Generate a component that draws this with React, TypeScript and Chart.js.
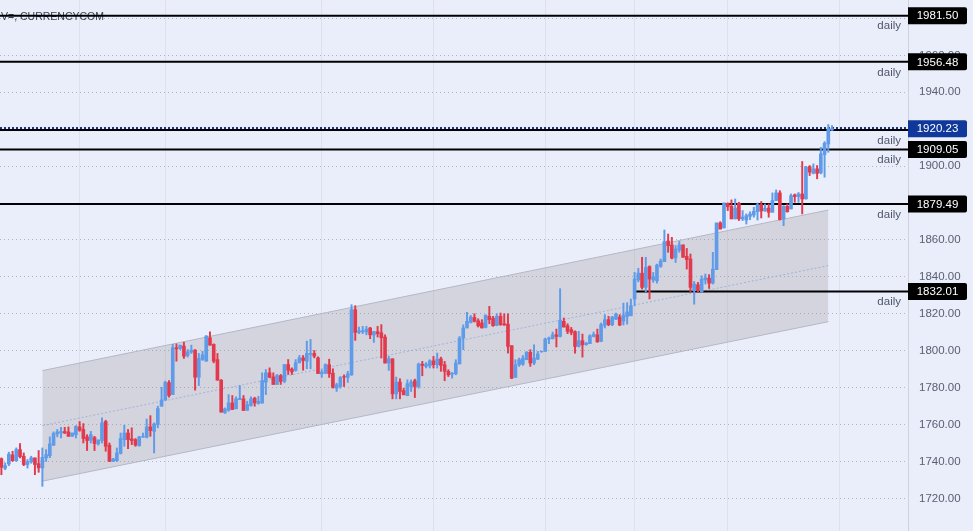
import { useEffect, useRef } from "react"
import { Chart, registerables } from "chart.js"

Chart.register(...registerables)

const FONT = '"Liberation Sans", Arial, sans-serif'

// candles
const opens = [
	1741.5, 1736.3, 1738.6, 1743.5, 1740.4, 1746.4, 1742.8, 1738.3, 1739.7, 1741.9,
	1738.8, 1736.5, 1741.9, 1743.1, 1748.8, 1754.9, 1755.4, 1756.2, 1756, 1753.6,
	1754.5, 1758.7, 1757.3, 1753.3, 1751.5, 1752.9, 1749.5, 1751.3, 1761.6, 1748.8,
	1740, 1740.4, 1744.4, 1751.8, 1755.4, 1752.2, 1751.8, 1748.6, 1753.1, 1753.1,
	1758.7, 1756.3, 1760, 1769.9, 1773.2, 1782.7, 1776.2, 1801.6, 1801.2, 1802.5,
	1797.4, 1799.2, 1800.3, 1785.6, 1795.2, 1794.3, 1807, 1803.4, 1795.2, 1784,
	1766.3, 1767.7, 1771.7, 1768.5, 1773.5, 1773.9, 1767.7, 1770.3, 1774.2, 1771.4,
	1771.7, 1782.9, 1788, 1785.8, 1781.7, 1786.5, 1783.5, 1792.5, 1790, 1789.3,
	1793.4, 1796.1, 1794.3, 1797.9, 1798.5, 1796.1, 1787.5, 1787.8, 1792.4, 1787.8,
	1779.7, 1780.6, 1786, 1785.5, 1786.9, 1822.2, 1809.9, 1810.3, 1810.1, 1812.3,
	1808.5, 1810.3, 1809.7, 1807.4, 1793.3, 1795.6, 1776.6, 1783, 1778.4, 1775.6,
	1780.6, 1783.7, 1780.6, 1792.7, 1791.5, 1791.8, 1794.5, 1792.4, 1795.6, 1792.4,
	1788.8, 1787.3, 1787.5, 1792.9, 1806.8, 1812.3, 1815.3, 1818, 1816.2, 1815,
	1812.6, 1818.6, 1817.5, 1813.7, 1818.6, 1814.6, 1814.4, 1802.7, 1785.5, 1792.4,
	1792.7, 1795.1, 1799.1, 1793.3, 1795.4, 1799.4, 1799.6, 1806.3, 1806.5, 1808.6,
	1807.7, 1815.9, 1813.5, 1811.4, 1810.3, 1802.3, 1805.4, 1803.2, 1803.8, 1807.7,
	1808.6, 1805, 1813.7, 1816.8, 1814.1, 1817.1, 1818.2, 1816, 1818.5, 1818.9,
	1828, 1838.3, 1842, 1834.3, 1845.5, 1838.3, 1837.9, 1845.7, 1848.2, 1859.4,
	1857.3, 1850.2, 1854.5, 1857.3, 1851.1, 1849.7, 1832.5, 1835.7, 1831.9, 1838.3,
	1839.3, 1836.6, 1843.9, 1869.2, 1866.5, 1879.9, 1878.2, 1871.4, 1879.9, 1871.4,
	1870.8, 1872.8, 1873.5, 1875.3, 1879, 1875.7, 1877.3, 1875, 1881.3, 1885.5,
	1871.4, 1878.2, 1876.8, 1884.4, 1883.5, 1884.9, 1882.2, 1899.7, 1896.1, 1898.5,
	1896.3, 1906.3, 1912, 1919.6,
]
const closes = [
	1736.8, 1737.7, 1743.9, 1740.4, 1746.4, 1742.6, 1738.3, 1739.9, 1741.9, 1738.3,
	1736.5, 1742.2, 1743.7, 1749.5, 1755.1, 1756, 1756.2, 1755.4, 1753.6, 1755.4,
	1758.9, 1756.9, 1752.4, 1751.3, 1754.5, 1749.7, 1751.6, 1760.9, 1748.2, 1740,
	1741.3, 1744.6, 1752.4, 1755.4, 1751.8, 1751.3, 1748.8, 1753.3, 1753.5, 1758.7,
	1756.7, 1760.3, 1768.6, 1773.3, 1782.9, 1775.7, 1801.6, 1801, 1803, 1797,
	1799.4, 1800.3, 1785.6, 1795.8, 1797.8, 1807.9, 1803, 1794.3, 1784, 1766.7,
	1768.5, 1771.7, 1768.1, 1773.9, 1774.1, 1767.6, 1770.8, 1773.9, 1771.7, 1772.6,
	1783.8, 1788, 1785.6, 1781.7, 1786.5, 1783.3, 1792.5, 1789.4, 1788.5, 1793.4,
	1796.1, 1794.7, 1798.5, 1798.5, 1797, 1787.6, 1788.4, 1792.4, 1787.5, 1780.1,
	1781.5, 1785.5, 1785.7, 1787.5, 1822.2, 1809.9, 1810.8, 1810.8, 1811.7, 1808.6,
	1810.3, 1809.2, 1807, 1793.3, 1795.6, 1776.6, 1783, 1777.9, 1776.1, 1782.1,
	1783, 1780.6, 1792.7, 1792, 1792.7, 1794.5, 1792.4, 1795.4, 1792, 1788.8,
	1786.9, 1787.8, 1793.3, 1806.8, 1812.3, 1815.9, 1818.2, 1815.9, 1813.5, 1812.3,
	1819.1, 1816.8, 1813.5, 1818.6, 1814.1, 1813.9, 1802.3, 1785.1, 1792.4, 1795.1,
	1796, 1799.1, 1793.3, 1796, 1798.3, 1799.6, 1806.3, 1806.8, 1808.6, 1807.7,
	1816.4, 1812.8, 1810.5, 1809.9, 1802.3, 1805.4, 1803.2, 1804.1, 1808.1, 1808.8,
	1804.8, 1814.1, 1816.8, 1814.1, 1818.2, 1819.9, 1813.9, 1819.3, 1821, 1824.3,
	1838.8, 1842, 1834.3, 1845.1, 1838.8, 1840.1, 1846.4, 1848.6, 1859.1, 1856.9,
	1850.2, 1855.1, 1857.3, 1850.6, 1849.3, 1834.3, 1836.1, 1832.5, 1838.8, 1839.5,
	1836.6, 1844.2, 1869.2, 1865.9, 1880, 1878, 1871.4, 1877.3, 1871.4, 1872.4,
	1873.2, 1874.1, 1875.5, 1879.1, 1875.7, 1877.1, 1875, 1881.3, 1885.5, 1871,
	1878.2, 1875.3, 1884, 1883.5, 1884.9, 1882.2, 1899.4, 1896.7, 1898.5, 1896.1,
	1906.6, 1912.4, 1920.2, 1920.23,
]
const highs = [
	1741.9, 1739.2, 1745, 1745.5, 1747.3, 1749.7, 1744.6, 1741, 1742.8, 1741.9,
	1745.9, 1747.3, 1746.4, 1753.3, 1756, 1757.3, 1758.5, 1758.5, 1758.7, 1755.4,
	1759.4, 1761.6, 1760.5, 1754.5, 1756.3, 1753.6, 1751.7, 1763.6, 1762.3, 1750,
	1741.7, 1747.3, 1755.4, 1759.6, 1757.3, 1758.2, 1752.4, 1753.6, 1755.4, 1763,
	1764.8, 1760.9, 1769.9, 1780.2, 1783.5, 1783.8, 1803.4, 1803.7, 1803, 1804.6,
	1800.6, 1803, 1800.6, 1798.5, 1799.7, 1808.2, 1810.2, 1803.7, 1798.5, 1784.4,
	1769, 1776.2, 1775.7, 1775, 1781.1, 1775.7, 1772.6, 1775, 1774.8, 1775.3,
	1788, 1789.8, 1790.7, 1788, 1787.1, 1787.1, 1792.5, 1795.2, 1790.7, 1795.2,
	1797.4, 1797.4, 1805.2, 1806.1, 1800.1, 1796.7, 1789.7, 1792.9, 1795.4, 1790.2,
	1782.4, 1786, 1786.9, 1788.8, 1824.9, 1824.4, 1812.8, 1813.2, 1813.2, 1812.6,
	1810.5, 1813.2, 1814.1, 1808.6, 1796.9, 1795.6, 1785.7, 1784.8, 1779.7, 1784.2,
	1784.2, 1784.6, 1793.3, 1794.2, 1793.6, 1795.1, 1796.9, 1798.7, 1796.5, 1794.2,
	1789.7, 1788.2, 1795.1, 1807.7, 1814, 1820.8, 1819.1, 1820, 1817.3, 1816.8,
	1819.5, 1824, 1818.6, 1820, 1820.4, 1820, 1820, 1802.7, 1795.1, 1796,
	1797.4, 1799.6, 1800.5, 1803.2, 1799.6, 1799.8, 1806.8, 1807.4, 1810.1, 1811.7,
	1833.6, 1817.7, 1814.6, 1812.6, 1810.8, 1810.5, 1809, 1804.5, 1808.6, 1810.1,
	1811.7, 1815, 1819.5, 1818.6, 1818.6, 1820.4, 1819.5, 1825.8, 1826, 1828,
	1842.4, 1844.6, 1850.6, 1850.6, 1846, 1842.4, 1846.9, 1849.7, 1865.4, 1863.2,
	1861.4, 1856.9, 1859.2, 1857.3, 1855.4, 1852.4, 1837.5, 1837, 1840.6, 1841.5,
	1841.2, 1853.3, 1869.2, 1869.9, 1880, 1880, 1881.7, 1882.2, 1880.4, 1875.9,
	1874.1, 1875.3, 1877.7, 1880, 1880.8, 1879.5, 1879.5, 1885.5, 1887.1, 1886.7,
	1878.6, 1879.5, 1884.9, 1884.9, 1885.7, 1902.5, 1899.9, 1900.3, 1901.2, 1900.3,
	1910.2, 1913.3, 1922.5, 1922,
]
const lows = [
	1732.8, 1735.5, 1737.7, 1740, 1740, 1741.9, 1737.7, 1736.4, 1739, 1732.8,
	1734.1, 1726.5, 1740, 1742, 1748.6, 1753.3, 1752.7, 1755.1, 1753.6, 1753.6,
	1752.7, 1756.3, 1750, 1745.9, 1750, 1745.9, 1748.8, 1750, 1745.5, 1740,
	1740, 1740, 1744, 1748.2, 1746.9, 1749.1, 1748.2, 1748.2, 1753.1, 1752.7,
	1753.6, 1744.6, 1758.2, 1769.9, 1773.2, 1774.8, 1776.2, 1794.3, 1800.6, 1795.8,
	1796.5, 1798.5, 1778.6, 1781.1, 1794.7, 1794.3, 1803, 1793.4, 1784, 1766.7,
	1766, 1767.2, 1768.1, 1768.5, 1773.5, 1767.6, 1767.6, 1769.9, 1769.9, 1771,
	1771.4, 1776.2, 1785.3, 1781.7, 1781.7, 1781.7, 1782.6, 1787.1, 1787.1, 1788.9,
	1793.4, 1789.4, 1790.2, 1790.2, 1796.1, 1787.6, 1785.5, 1787.5, 1785.5, 1779.7,
	1777.9, 1779.7, 1780.6, 1782.8, 1786.6, 1805.6, 1809.2, 1809.2, 1808.6, 1806.5,
	1804.5, 1807.4, 1796, 1793.3, 1789.3, 1773.9, 1773.9, 1773.9, 1776.1, 1775.6,
	1777.9, 1774.6, 1779.7, 1786.4, 1790.7, 1790.6, 1790.6, 1790.6, 1788.8, 1783.7,
	1786, 1785.1, 1786.9, 1792.7, 1800.5, 1812.3, 1815, 1815.5, 1812.8, 1812.3,
	1812.3, 1814.6, 1813.2, 1813.5, 1813.7, 1813.7, 1798.7, 1784.8, 1785.5, 1791.5,
	1792, 1795.1, 1791.5, 1792.4, 1795.1, 1799.1, 1799.6, 1803.8, 1806.3, 1802,
	1807.4, 1812.8, 1809.2, 1808.6, 1798.7, 1802, 1796.5, 1803, 1803.8, 1807.4,
	1804.5, 1805, 1812.3, 1813.5, 1813.5, 1816.8, 1813.5, 1813.9, 1814.4, 1818.9,
	1824.3, 1837.3, 1833.4, 1831.9, 1828, 1837, 1836.6, 1845.1, 1848.2, 1853.3,
	1849.7, 1847.8, 1853.3, 1850.6, 1844.2, 1831.9, 1825.2, 1831.9, 1831.6, 1836.1,
	1833.7, 1836.1, 1843.9, 1865.9, 1866.5, 1875.9, 1871.4, 1871.4, 1870.5, 1870.5,
	1868.6, 1871, 1872.3, 1870.8, 1871.9, 1875.5, 1872.3, 1875, 1881.3, 1870.8,
	1867.7, 1875, 1876.8, 1880.4, 1880.4, 1874.1, 1882.2, 1894.9, 1895.8, 1893.1,
	1895.8, 1894, 1907.5, 1919.3,
]

// horizontal levels: black line + black tag + "daily" note
const levels = [1981.5, 1956.48, 1909.05, 1879.49, 1832.01]
const levelStart = [0, 0, 0, 0, 170]
const levelTags = ["1981.50", "1956.48", "1909.05", "1879.49", "1832.01"]
const lastPrice = 1920.23
const lastLevel = 1919.6

// regression channel
const channelX = [11, 222]
const channelTop = [1789.2, 1876.2]
const channelMid = [1759.4, 1846.1]
const channelBottom = [1729.3, 1815.7]

const priceTicks = [
	1720, 1740, 1760, 1780, 1800, 1820, 1840, 1860, 1880, 1900, 1920, 1940, 1960, 1980,
]
const dayLines = [21, 44, 86, 116, 146, 170, 195, 225]

const X_MIN = -0.376
const X_MAX = 243.4
const Y_MIN = 1702.3
const Y_MAX = 1990

const UP = "#5f9be8"
const DOWN = "#e23a4c"

const candleColors = closes.map((c, i) => (c >= opens[i] ? UP : DOWN))

function hline(y: number, from: number, color = "#000", dash: number[] = []) {
	return {
		type: "line" as const,
		data: [
			{ x: from <= 0 ? X_MIN : from, y },
			{ x: X_MAX, y },
		],
		borderColor: color,
		borderWidth: 2,
		borderDash: dash,
		pointRadius: 0,
		order: 3,
	}
}

const annotations = {
	id: "annotations",
	beforeDatasetsDraw(chart: Chart) {
		const { ctx } = chart
		ctx.save()
		ctx.font = `10.5px ${FONT}`
		ctx.fillStyle = "#3a3f4d"
		ctx.textBaseline = "middle"
		ctx.textAlign = "left"
		ctx.fillText("V=, CURRENCYCOM", 1, 17)
		ctx.restore()
	},
	afterDraw(chart: Chart) {
		const { ctx } = chart
		const y = chart.scales.y
		const tag = (value: number, text: string, bg: string) => {
			const py = y.getPixelForValue(value)
			ctx.fillStyle = bg
			ctx.beginPath()
			ctx.roundRect(908, py - 8.5, 59, 17, [0, 2, 2, 0])
			ctx.fill()
			ctx.fillStyle = "#fff"
			ctx.textAlign = "center"
			ctx.fillText(text, 937.5, py + 0.5)
		}
		ctx.save()
		ctx.font = `11.5px ${FONT}`
		ctx.textBaseline = "middle"
		ctx.fillStyle = "#50566a"
		ctx.textAlign = "right"
		for (const v of [...levels, lastLevel]) {
			ctx.fillText("daily", 901, y.getPixelForValue(v) + 10.5)
		}
		levels.forEach((v, i) => tag(v, levelTags[i], "#000"))
		tag(lastPrice, lastPrice.toFixed(2), "#10389b")
		ctx.restore()
	},
}

export default function App() {
	const canvasRef = useRef<HTMLCanvasElement>(null)

	useEffect(() => {
		if (!canvasRef.current) return
		document.body.style.margin = "0"

		const chart = new Chart(canvasRef.current, {
			type: "bar",
			data: {
				datasets: [
					// candles
					{
						data: closes.map((c, i) => ({ x: i, y: [opens[i], c] })),
						backgroundColor: candleColors,
						barThickness: 3,
						grouped: false,
						order: 1,
					},
					{
						data: highs.map((h, i) => ({ x: i, y: [lows[i], h] })),
						backgroundColor: candleColors,
						barThickness: 1.3,
						grouped: false,
						order: 2,
					},
					...levels.map((v, i) => hline(v, levelStart[i])),
					hline(lastLevel, 0),
					hline(lastPrice + 0.4, 0, "#12307f", [2, 2]),
					// channel
					{
						type: "line",
						data: channelX.map((x, i) => ({ x, y: channelMid[i] })),
						borderColor: "#a3b1d8",
						borderWidth: 1,
						borderDash: [2, 2],
						pointRadius: 0,
						order: 4,
					},
					{
						type: "line",
						data: channelX.map((x, i) => ({ x, y: channelBottom[i] })),
						borderColor: "#b5b8c4",
						borderWidth: 1,
						pointRadius: 0,
						order: 5,
					},
					{
						type: "line",
						data: channelX.map((x, i) => ({ x, y: channelTop[i] })),
						borderColor: "#b5b8c4",
						borderWidth: 1,
						pointRadius: 0,
						fill: { target: "-1" },
						backgroundColor: "rgba(130,125,125,0.22)",
						order: 6,
					},
				],
			} as any,
			options: {
				responsive: false,
				animation: false,
				layout: { padding: 0 },
				plugins: { legend: { display: false }, tooltip: { enabled: false } },
				scales: {
					x: {
						type: "linear",
						min: X_MIN,
						max: X_MAX,
						offset: false,
						grid: { color: "#dce1ed", offset: false, drawTicks: false },
						border: { display: false },
						ticks: { display: false, autoSkip: false },
						afterBuildTicks: (s: any) => {
							s.ticks = dayLines.map((value) => ({ value }))
						},
						afterFit: (s: any) => {
							s.height = 0
						},
					},
					y: {
						position: "right",
						min: Y_MIN,
						max: Y_MAX,
						grid: { color: "#b2b6c2", drawTicks: false },
						border: { display: true, color: "#cdd2de", dash: [1, 3] },
						ticks: {
							color: "#5a6072",
							padding: 11,
							font: { family: FONT, size: 11.5 },
							callback: (v: any) => Number(v).toFixed(2),
						},
						afterBuildTicks: (s: any) => {
							s.ticks = priceTicks.map((value) => ({ value }))
						},
						afterFit: (s: any) => {
							s.width = 65
							s.paddingTop = 0
							s.paddingBottom = 0
						},
					},
				},
			},
			plugins: [annotations],
		} as any)

		return () => chart.destroy()
	}, [])

	return (
		<div style={{ width: 973, height: 531, background: "#e9eefa" }}>
			<canvas ref={canvasRef} width={973} height={531} style={{ display: "block" }} />
		</div>
	)
}
